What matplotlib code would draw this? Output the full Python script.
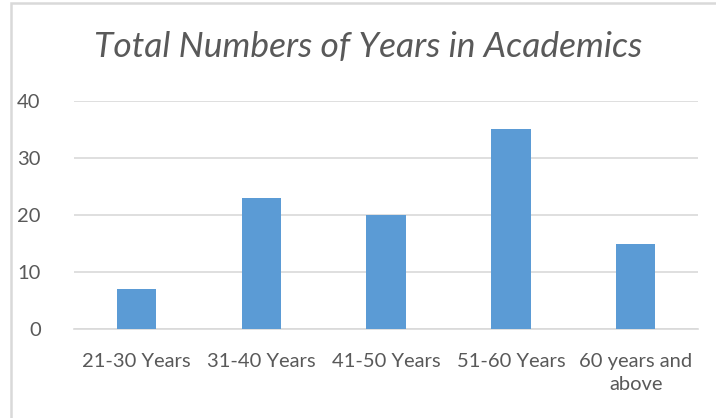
import matplotlib.pyplot as plt
from matplotlib.patches import Rectangle

categories = ["21-30 Years", "31-40 Years", "41-50 Years", "51-60 Years", "60 years and\nabove"]
values = [7, 23, 20, 35, 15]
yticks = [0, 10, 20, 30, 40]

plt.rcParams['font.family'] = ['Lato', 'DejaVu Sans']
text_color = "#595959"
grid_color = "#d9d9d9"

fig = plt.figure(figsize=(7.16, 4.18), dpi=100)
ax = fig.add_axes([0.1034, 0.2129, 0.8716, 0.5455])

x = range(len(categories))
ax.bar(x, values, width=0.315, color="#5b9bd5", zorder=3)

ax.set_xlim(-0.5, len(categories) - 0.5)
ax.set_ylim(0, 40)
ax.set_yticks(yticks)
ax.set_xticks(list(x))
ax.set_xticklabels(categories, linespacing=1.45)
ax.yaxis.grid(True, color=grid_color, linewidth=1.2, zorder=0)
ax.tick_params(length=0, labelsize=14.5, colors=text_color, pad=17)
ax.tick_params(axis='y', pad=24)
for side in ("left", "right", "top"):
    ax.spines[side].set_visible(False)
ax.spines["bottom"].set_color(grid_color)
ax.spines["bottom"].set_linewidth(1.2)

fig.text(0.514, 0.887, "Total Numbers of Years in Academics", ha="center", va="center",
         fontsize=25.5, style="italic", color=text_color)

# outline round the chart, its right and bottom edges run off the canvas
fig.patches.append(Rectangle((0.0147, -0.05), 1.0, 1.0428, transform=fig.transFigure,
                             fill=False, edgecolor=grid_color, linewidth=1.8))

fig.savefig("out.png", dpi=100)
